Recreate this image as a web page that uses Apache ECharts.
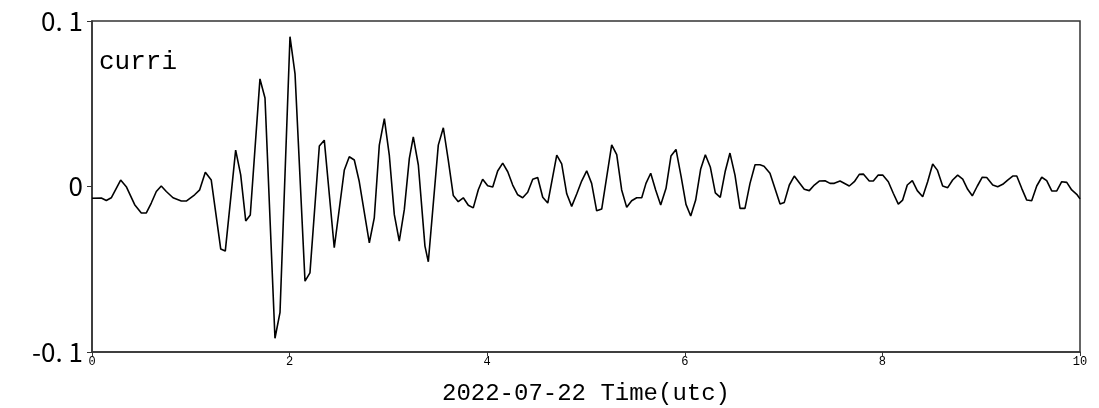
<!DOCTYPE html>
<html lang="en">
<head>
    <meta charset="utf-8">
    <title>curri</title>
    <script src="https://cdn.jsdelivr.net/npm/echarts@6/dist/echarts.min.js"></script>
    <style>
        html, body { margin: 0; padding: 0; background: #fff; }
        #main { width: 1099px; height: 408px; }
    </style>
</head>
<body>
<div id="main"></div>
<script type="text/javascript">
// time (hours) and current values
var timeValues = [
    0.000, 0.094, 0.145, 0.195, 0.290, 0.347, 0.432, 0.499, 0.550, 0.600,
    0.651, 0.701, 0.752, 0.820, 0.904, 0.954, 1.039, 1.090, 1.147, 1.207,
    1.303, 1.349, 1.454, 1.505, 1.556, 1.602, 1.700, 1.751, 1.852, 1.903,
    2.004, 2.055, 2.156, 2.206, 2.301, 2.351, 2.452, 2.554, 2.604, 2.655,
    2.705, 2.807, 2.857, 2.908, 2.959, 3.009, 3.060, 3.110, 3.161, 3.212,
    3.252, 3.303, 3.370, 3.404, 3.505, 3.556, 3.606, 3.657, 3.707, 3.758,
    3.809, 3.859, 3.910, 3.954, 4.005, 4.056, 4.106, 4.157, 4.208, 4.258,
    4.309, 4.359, 4.410, 4.461, 4.511, 4.562, 4.613, 4.704, 4.754, 4.805,
    4.855, 4.906, 4.956, 5.007, 5.057, 5.108, 5.159, 5.260, 5.311, 5.361,
    5.412, 5.462, 5.513, 5.564, 5.607, 5.655, 5.705, 5.756, 5.810, 5.860,
    5.911, 5.962, 6.012, 6.060, 6.110, 6.161, 6.208, 6.258, 6.309, 6.359,
    6.410, 6.457, 6.508, 6.559, 6.609, 6.660, 6.711, 6.761, 6.802, 6.862,
    6.964, 7.007, 7.058, 7.108, 7.159, 7.209, 7.260, 7.311, 7.361, 7.419,
    7.470, 7.513, 7.571, 7.665, 7.716, 7.766, 7.807, 7.867, 7.908, 7.958,
    8.003, 8.060, 8.110, 8.161, 8.205, 8.252, 8.303, 8.353, 8.408, 8.458,
    8.509, 8.556, 8.610, 8.661, 8.711, 8.762, 8.813, 8.863, 8.910, 8.961,
    9.011, 9.056, 9.117, 9.167, 9.218, 9.268, 9.319, 9.360, 9.410, 9.461,
    9.511, 9.562, 9.613, 9.663, 9.714, 9.765, 9.815, 9.866, 9.916, 9.967,
    10.000
];
var curriValues = [
    -0.0071, -0.0070, -0.0085, -0.0068, 0.0039, -0.0001, -0.0110, -0.0160, -0.0160, -0.0100,
    -0.0030, 0.0003, -0.0030, -0.0068, -0.0088, -0.0088, -0.0050, -0.0020, 0.0086, 0.0039,
    -0.0378, -0.0390, 0.0220, 0.0070, -0.0208, -0.0172, 0.0650, 0.0535, -0.0917, -0.0760,
    0.0905, 0.0680, -0.0572, -0.0522, 0.0245, 0.0280, -0.0370, 0.0100, 0.0180, 0.0160,
    0.0030, -0.0340, -0.0190, 0.0250, 0.0410, 0.0190, -0.0170, -0.0330, -0.0140, 0.0170,
    0.0300, 0.0130, -0.0360, -0.0455, 0.0250, 0.0355, 0.0160, -0.0055, -0.0092, -0.0068,
    -0.0113, -0.0129, -0.0020, 0.0044, 0.0004, -0.0003, 0.0094, 0.0141, 0.0089, 0.0009,
    -0.0050, -0.0068, -0.0035, 0.0044, 0.0054, -0.0065, -0.0100, 0.0190, 0.0137, -0.0044,
    -0.0120, -0.0045, 0.0033, 0.0095, 0.0019, -0.0147, -0.0136, 0.0252, 0.0192, -0.0021,
    -0.0126, -0.0086, -0.0068, -0.0068, 0.0019, 0.0080, -0.0021, -0.0112, -0.0011, 0.0184,
    0.0224, 0.0063, -0.0108, -0.0178, -0.0082, 0.0106, 0.0192, 0.0118, -0.0039, -0.0066,
    0.0094, 0.0202, 0.0069, -0.0132, -0.0132, 0.0019, 0.0131, 0.0131, 0.0123, 0.0080,
    -0.0106, -0.0096, 0.0009, 0.0063, 0.0023, -0.0017, -0.0025, 0.0009, 0.0033, 0.0035,
    0.0019, 0.0019, 0.0033, 0.0003, 0.0029, 0.0073, 0.0075, 0.0033, 0.0033, 0.0069,
    0.0069, 0.0029, -0.0041, -0.0106, -0.0082, 0.0009, 0.0035, -0.0025, -0.0062, 0.0029,
    0.0136, 0.0099, 0.0003, -0.0007, 0.0039, 0.0069, 0.0045, -0.0017, -0.0056, 0.0003,
    0.0056, 0.0054, 0.0009, -0.0001, 0.0013, 0.0039, 0.0063, 0.0063, -0.0011, -0.0082,
    -0.0086, 0.0003, 0.0056, 0.0035, -0.0027, -0.0027, 0.0029, 0.0025, -0.0021, -0.0047,
    -0.0075
];
var xTicks = [0, 2, 4, 6, 8, 10];
var yTickLabels = {'0.1': '0. 1', '0': '0', '-0.1': '-0. 1'};

var seriesData = timeValues.map(function (t, i) {
    return [t, curriValues[i]];
});

var myChart = echarts.init(document.getElementById('main'));
var option = {
    animation: false,
    backgroundColor: '#fff',
    grid: {
        left: 92, right: 19, top: 21, bottom: 56,
        outerBoundsMode: 'none',
        containLabel: false,
        show: true,
        borderColor: '#333',
        borderWidth: 1.5
    },
    graphic: [{
        type: 'text',
        left: 99,
        top: 49,
        style: {
            text: 'curri',
            font: '26px "Liberation Mono", monospace',
            fill: '#000'
        }
    }],
    xAxis: {
        type: 'value',
        min: xTicks[0],
        max: xTicks[xTicks.length - 1],
        interval: 2,
        name: '2022-07-22 Time(utc)',
        nameLocation: 'middle',
        nameGap: 30,
        nameTextStyle: {
            color: '#000',
            fontSize: 24,
            fontFamily: 'Liberation Mono'
        },
        axisLine: { onZero: false, lineStyle: { color: '#333', width: 1.5 } },
        axisTick: { length: 4, lineStyle: { color: '#333' } },
        axisLabel: {
            color: '#000',
            fontSize: 12,
            fontFamily: 'Liberation Mono',
            margin: 4
        },
        splitLine: { show: false }
    },
    yAxis: {
        type: 'value',
        min: -0.1,
        max: 0.1,
        interval: 0.1,
        axisLine: { show: true, lineStyle: { color: '#333', width: 1.5 } },
        axisTick: { show: true, length: 5, lineStyle: { color: '#333' } },
        axisLabel: {
            color: '#000',
            fontSize: 26,
            fontFamily: 'Noto Sans CJK SC',
            margin: 9,
            formatter: function (v) {
                var k = String(Math.round(v * 10) / 10);
                return yTickLabels[k] !== undefined ? yTickLabels[k] : k;
            }
        },
        splitLine: { show: false }
    },
    series: [{
        type: 'line',
        data: seriesData,
        showSymbol: false,
        lineStyle: { color: '#000', width: 1.6 },
        z: 3
    }]
};
myChart.setOption(option);
</script>
</body>
</html>
